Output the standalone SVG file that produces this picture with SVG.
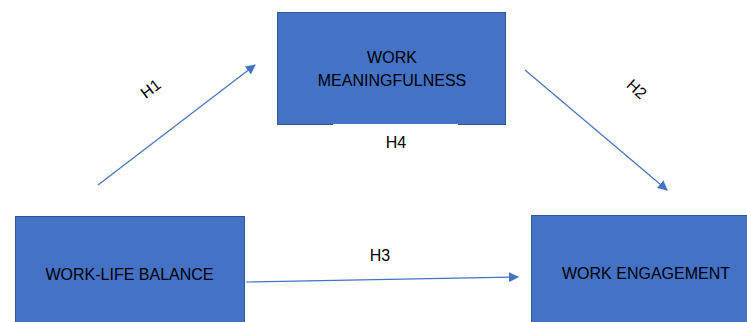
<svg xmlns="http://www.w3.org/2000/svg" width="747" height="322" viewBox="0 0 747 322">
  <style>
    .box { fill: #4472C4; stroke: #2F5597; stroke-width: 1; }
    .label { font-family: "Liberation Sans", Arial, sans-serif; font-size: 16px; fill: #000; text-anchor: middle; }
    .hyp { font-family: "Liberation Sans", Arial, sans-serif; font-size: 16px; fill: #000; text-anchor: middle; }
    .link { stroke: #4472C4; stroke-width: 1.2; fill: none; marker-end: url(#arrow); }
  </style>
  <defs>
    <marker id="arrow" viewBox="0 0 10 10" refX="9" refY="5" markerWidth="10" markerHeight="10" markerUnits="userSpaceOnUse" orient="auto">
      <path d="M0,0 L10,5 L0,10 Z" fill="#4472C4"/>
    </marker>
  </defs>

  <rect width="747" height="322" fill="#fff"/>

  <g id="work-meaningfulness">
    <rect class="box" x="277.5" y="12.5" width="228" height="112"/>
    <line x1="333" y1="124.5" x2="458" y2="124.5" stroke="#ffffff" stroke-width="1"/>
    <text class="label" x="392" y="63">WORK</text>
    <text class="label" x="392" y="86">MEANINGFULNESS</text>
  </g>

  <g id="work-life-balance">
    <rect class="box" x="15.5" y="216.5" width="229" height="110"/>
    <text class="label" x="129.5" y="280">WORK-LIFE BALANCE</text>
  </g>

  <g id="work-engagement">
    <rect class="box" x="531.5" y="215.5" width="230" height="110"/>
    <text class="label" x="646" y="279">WORK ENGAGEMENT</text>
  </g>

  <g id="connectors">
    <line class="link" x1="98" y1="185" x2="255" y2="65"/>
    <line class="link" x1="525" y1="70" x2="667" y2="190"/>
    <line class="link" x1="246" y1="282" x2="518" y2="277"/>
  </g>

  <g id="hypotheses">
    <text class="hyp" transform="translate(154,93) rotate(-37)">H1</text>
    <text class="hyp" transform="translate(633,93) rotate(42)">H2</text>
    <text class="hyp" x="380" y="261">H3</text>
    <text class="hyp" x="396" y="148">H4</text>
  </g>
</svg>
